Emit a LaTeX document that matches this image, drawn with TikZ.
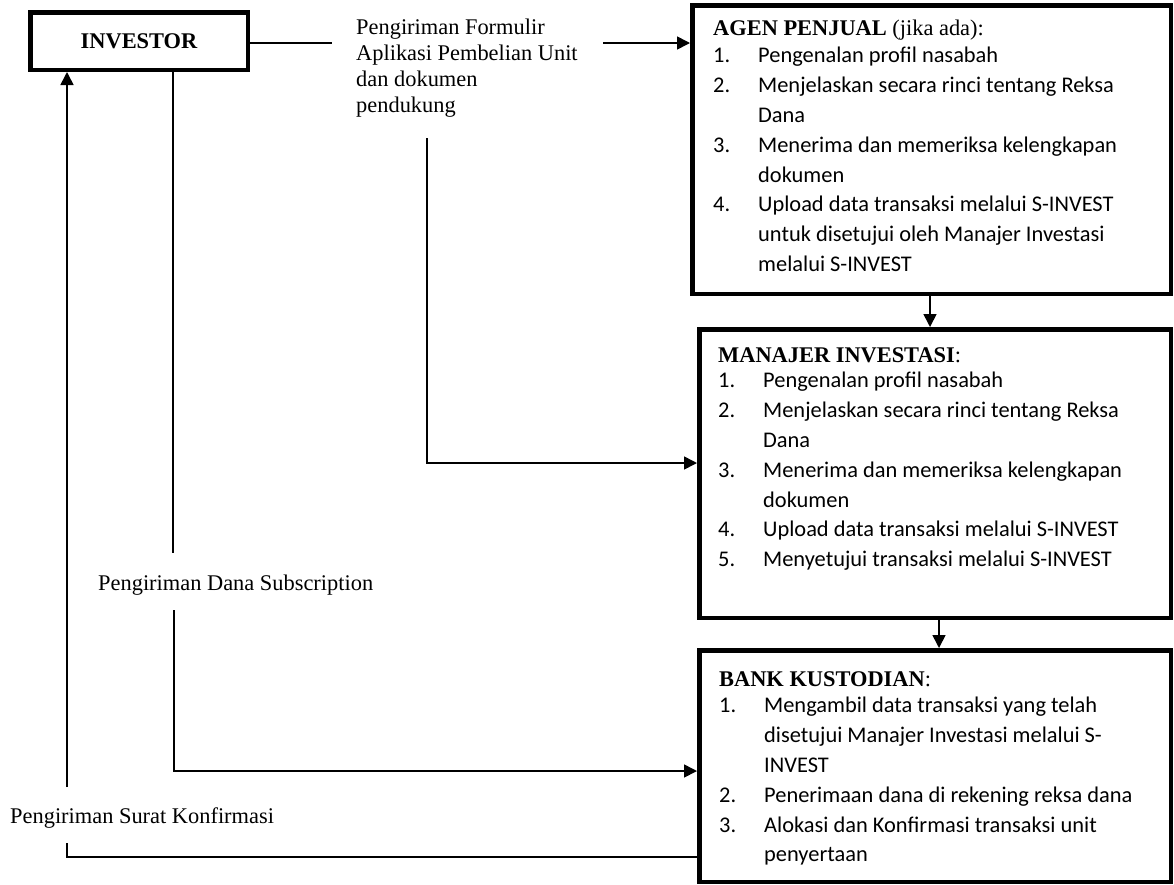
\documentclass[tikz,border=0pt]{standalone}
\usepackage{fontspec}
\usepackage{array}
\setmainfont{Liberation Serif}
\newfontfamily\calibri{Carlito}
\usetikzlibrary{arrows.meta,calc}

\begin{document}
\begin{tikzpicture}[x=1pt, y=1pt, >={Triangle[length=13pt,width=13pt]},
  box/.style={draw, line width=4.5pt, anchor=north west, inner sep=0pt},
  flow/.style={line width=1.6pt},
  lbl/.style={anchor=base west, inner sep=0pt, font=\fontsize{22.4}{26}\selectfont},
  steps/.style={anchor=base west, inner sep=0pt, font=\fontsize{22.4}{29.8}\selectfont}]
\useasboundingbox (0,0) rectangle (1174,-884);
\node[box, minimum width=217.5pt, minimum height=57.5pt,
      font=\fontsize{22.4}{26}\selectfont\bfseries] (inv) at (28,-10) {INVESTOR};
\node[box, minimum width=478.5pt, minimum height=288.5pt] (agen) at (690,-3) {};
\node[box, minimum width=471.5pt, minimum height=288.5pt] (mi) at (697,-327) {};
\node[box, minimum width=471.5pt, minimum height=231.5pt] (bk) at (697,-648) {};
\node[steps] (agentxt) at (713,-35) {\begin{tabular}[t]{@{}>{\calibri}p{45pt}@{}>{\calibri}l@{}}
  \multicolumn{2}{@{}l@{}}{\textbf{AGEN PENJUAL} (jika ada):}\\[-2pt]
  1. & Pengenalan profil nasabah\\
  2. & Menjelaskan secara rinci tentang Reksa\\
     & Dana\\
  3. & Menerima dan memeriksa kelengkapan\\
     & dokumen\\
  4. & Upload data transaksi melalui S-INVEST\\
     & untuk disetujui oleh Manajer Investasi\\
     & melalui S-INVEST
\end{tabular}};
\node[steps] (mitxt) at (718,-362) {\begin{tabular}[t]{@{}>{\calibri}p{45pt}@{}>{\calibri}l@{}}
  \multicolumn{2}{@{}l@{}}{\textbf{MANAJER INVESTASI}:}\\[-4pt]
  1. & Pengenalan profil nasabah\\
  2. & Menjelaskan secara rinci tentang Reksa\\
     & Dana\\
  3. & Menerima dan memeriksa kelengkapan\\
     & dokumen\\
  4. & Upload data transaksi melalui S-INVEST\\
  5. & Menyetujui transaksi melalui S-INVEST
\end{tabular}};
\node[steps] (bktxt) at (719,-686) {\begin{tabular}[t]{@{}>{\calibri}p{45pt}@{}>{\calibri}l@{}}
  \multicolumn{2}{@{}l@{}}{\textbf{BANK KUSTODIAN}:}\\[-3pt]
  1. & Mengambil data transaksi yang telah\\
     & disetujui Manajer Investasi melalui S-\\
     & INVEST\\
  2. & Penerimaan dana di rekening reksa dana\\
  3. & Alokasi dan Konfirmasi transaksi unit\\
     & penyertaan
\end{tabular}};
\node[lbl] (formtxt) at (356,-34) {\begin{tabular}[t]{@{}l@{}}
  Pengiriman Formulir\\Aplikasi Pembelian Unit\\dan dokumen\\pendukung
\end{tabular}};
\node[lbl] (danatxt) at (98,-590) {Pengiriman Dana Subscription};
\node[lbl] (surattxt) at (10,-823) {Pengiriman Surat Konfirmasi};
\coordinate (f1) at (332,-43);
\coordinate (f2) at (603,-43);
\coordinate (m1) at (427,-138);
\coordinate (m2) at (427,-463);
\coordinate (d1) at (173,-553);
\coordinate (d2) at (174,-610);
\coordinate (d3) at (174,-771);
\coordinate (r1) at (67,-843);
\coordinate (r2) at (67,-857);
\coordinate (r3) at (67,-787);
\coordinate (a1) at (930,0);
\coordinate (a2) at (939,0);
\draw[flow] (inv.east |- f1) -- (f1);
\draw[flow,->] (f2) -- (f2 -| agen.west);
\draw[flow,->] (m1) -- (m2) -- (m2 -| mi.west);
\draw[flow] (inv.south -| d1) -- (d1);
\draw[flow,->] (d2) -- (d3) -- (d3 -| bk.west);
\draw[flow] (r2 -| bk.west) -- (r2) -- (r1);
\draw[flow,->] (r3) -- (inv.south -| r3);
\draw[flow,->] (agen.south -| a1) -- (mi.north -| a1);
\draw[flow,->] (mi.south -| a2) -- (bk.north -| a2);
\end{tikzpicture}
\end{document}
